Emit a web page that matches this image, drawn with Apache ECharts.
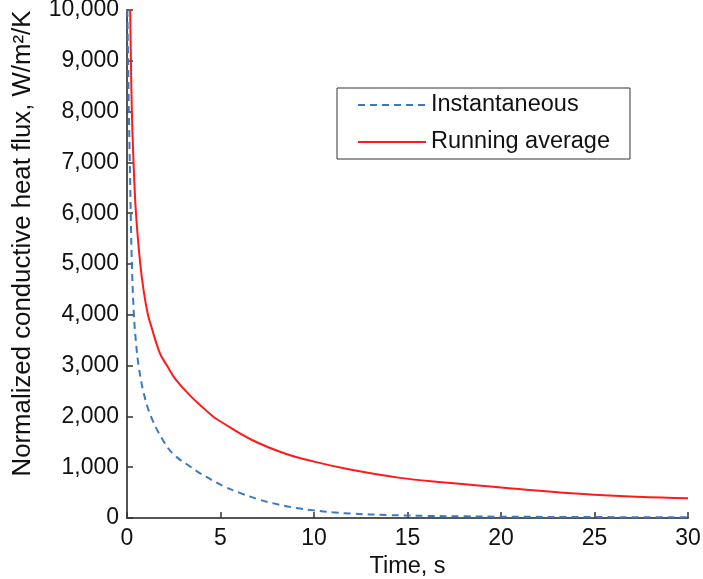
<!DOCTYPE html>
<html>
<head>
<meta charset="utf-8">
<script src="https://cdn.jsdelivr.net/npm/echarts@6/dist/echarts.min.js"></script>
<style>html,body{margin:0;padding:0;background:#fff;}#c{width:703px;height:579px;}</style>
</head>
<body>
<div id="c"></div>
<script>
var seriesNames = ["Instantaneous", "Running average"];
var xTicks = [0, 5, 10, 15, 20, 25, 30];
var yTicks = [0, 1000, 2000, 3000, 4000, 5000, 6000, 7000, 8000, 9000, 10000];
var instantaneous = [
  [0.02,10000],[0.06,9000],[0.1,8000],[0.15,7000],[0.2,6000],[0.26,5000],[0.37,4000],
  [0.47,3500],[0.62,3000],[0.9,2450],[1.28,2000],[1.91,1540],[2.5,1250],[3.43,1000],
  [4.0,860],[5.2,620],[6.0,500],[7.0,370],[8.1,265],[9.0,200],[10.0,150],[11.0,112],
  [12.0,86],[14.0,58],[16.0,42],[18.0,32],[20.0,26],[25.0,18],[30.0,15]
];
var runningAverage = [
  [0.17,10000],[0.21,9000],[0.26,8000],[0.35,7000],[0.48,6000],[0.71,5000],[0.9,4450],
  [1.12,4000],[1.3,3770],[1.75,3250],[2.14,3000],[2.6,2730],[3.43,2390],[4.6,2000],
  [5.0,1900],[6.66,1540],[8.44,1270],[10.0,1110],[12.0,950],[14.6,790],[17.0,700],
  [20.0,600],[25.0,460],[30.0,390]
];

var chart = echarts.init(document.getElementById('c'), null, {renderer: 'canvas'});
var font = 'Liberation Sans, Arial, sans-serif';
chart.setOption({
  animation: false,
  backgroundColor: '#fff',
  grid: {left: 127, right: 15, top: 10, bottom: 61, containLabel: false, outerBoundsMode: 'none'},
  legend: {
    orient: 'vertical',
    left: 337, top: 88,
    padding: [5, 20, 5, 20],
    itemGap: 13,
    itemWidth: 68, itemHeight: 14,
    borderColor: '#333', borderWidth: 1,
    backgroundColor: '#fff',
    itemStyle: {opacity: 0},
    textStyle: {fontFamily: font, fontSize: 23.5, lineHeight: 24, color: '#111'},
    data: seriesNames
  },
  xAxis: {
    type: 'value', min: xTicks[0], max: xTicks[xTicks.length - 1], interval: 5,
    name: 'Time, s', nameLocation: 'middle', nameGap: 35,
    nameTextStyle: {fontFamily: font, fontSize: 23.5, color: '#111'},
    axisLine: {show: true, lineStyle: {color: '#555', width: 2}},
    axisTick: {show: true, inside: true, length: 6, lineStyle: {color: '#333', width: 1.5}},
    axisLabel: {fontFamily: font, fontSize: 23, color: '#111', margin: 9},
    splitLine: {show: false}
  },
  yAxis: {
    type: 'value', min: yTicks[0], max: yTicks[yTicks.length - 1], interval: 1000,
    name: 'Normalized conductive heat flux, W/m\u00b2/K', nameLocation: 'middle', nameGap: 91,
    nameTextStyle: {fontFamily: font, fontSize: 25.8, color: '#111', padding: [0, 0, 0, 41]},
    axisLine: {show: true, lineStyle: {color: '#555', width: 2}},
    axisTick: {show: true, inside: true, length: 6, lineStyle: {color: '#333', width: 1.5}},
    axisLabel: {fontFamily: font, fontSize: 23, color: '#111', margin: 8,
      formatter: function (v) { return v.toLocaleString('en-US'); }},
    splitLine: {show: false}
  },
  series: [
    {
      name: seriesNames[0], type: 'line', data: instantaneous, smooth: 0.4,
      showSymbol: false, symbol: 'none', clip: true,
      lineStyle: {color: '#3b78c2', width: 2, type: [7, 5]},
      itemStyle: {color: '#3b78c2'}
    },
    {
      name: seriesNames[1], type: 'line', data: runningAverage, smooth: 0.4,
      showSymbol: false, symbol: 'none', clip: true,
      lineStyle: {color: '#ff1a1a', width: 2},
      itemStyle: {color: '#ff1a1a'}
    }
  ]
});
</script>
</body>
</html>
